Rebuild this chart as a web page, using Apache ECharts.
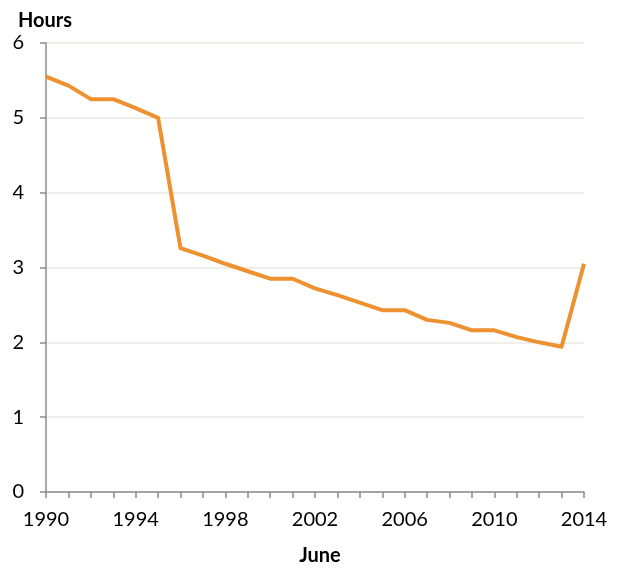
<!DOCTYPE html>
<html><head><meta charset="utf-8">
<script src="https://cdn.jsdelivr.net/npm/echarts@6/dist/echarts.min.js"></script>
<style>html,body{margin:0;padding:0;background:#fff}#c{width:619px;height:568px}</style>
</head><body><div id="c"></div>
<script>
const years = ['1990','1991','1992','1993','1994','1995','1996','1997','1998','1999','2000','2001','2002','2003','2004','2005','2006','2007','2008','2009','2010','2011','2012','2013','2014'];
const hours = [5.55,5.43,5.25,5.25,5.13,5.0,3.26,3.16,3.05,2.95,2.85,2.85,2.72,2.63,2.53,2.43,2.43,2.30,2.26,2.16,2.16,2.07,2.00,1.94,3.05];
const yTicks = [0,1,2,3,4,5,6];
const FONT = 'Lato';
const chart = echarts.init(document.getElementById('c'), null, {renderer:'canvas'});
chart.setOption({
  animation:false,
  textStyle:{fontFamily:FONT},
  title:[
    {text:'Hours', left:13, top:6, textStyle:{fontFamily:FONT,fontWeight:'bold',fontSize:20,color:'#000'}},
    {text:'June', left:315, textAlign:'center', top:541, textStyle:{fontFamily:FONT,fontWeight:'bold',fontSize:20,color:'#000'}}
  ],
  grid:{left:46,right:35,top:43,bottom:76,containLabel:false},
  xAxis:{type:'category',data:years,boundaryGap:false,
    axisLine:{lineStyle:{color:'#8c8c8c',width:1.5}},
    axisTick:{interval:0,length:6,lineStyle:{color:'#8c8c8c',width:1.5}},
    axisLabel:{interval:3,color:'#000',fontSize:20,margin:18,fontFamily:FONT},
    splitLine:{show:false}},
  yAxis:{type:'value',min:yTicks[0],max:yTicks[yTicks.length-1],interval:1,
    axisLine:{show:true,lineStyle:{color:'#8c8c8c',width:1.5}},
    axisTick:{show:true,length:6,lineStyle:{color:'#8c8c8c',width:1.5}},
    axisLabel:{color:'#000',fontSize:20,margin:22,fontFamily:FONT},
    splitLine:{lineStyle:{color:'#ede9df',width:1.5}}},
  series:[{type:'line',data:hours,symbol:'none',lineStyle:{color:'#ee9130',width:4,join:'round'}}]
});
</script></body></html>
